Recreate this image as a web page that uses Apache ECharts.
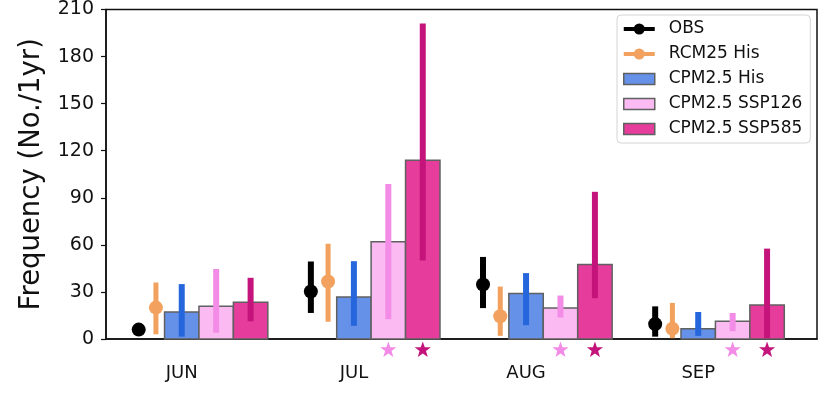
<!DOCTYPE html>
<html>
<head>
<meta charset="utf-8">
<script src="https://cdn.jsdelivr.net/npm/echarts@6/dist/echarts.min.js"></script>
<style>html,body{margin:0;padding:0;background:#fff}#c{width:832px;height:393px}</style>
</head>
<body>
<div id="c"></div>
<script>
const months = ['JUN', 'JUL', 'AUG', 'SEP'];
const yTicks = [0, 30, 60, 90, 120, 150, 180, 210];

const obsMean = [6, 30.3, 34.7, 9.5];
const obsLow  = [5, 16.6, 19.7, 1.5];
const obsHigh = [7, 49.4, 52.3, 20.8];

const rcmMean = [20, 36.6, 14.5, 6.5];
const rcmLow  = [3, 11, 2, 0.5];
const rcmHigh = [36, 60.7, 33.4, 23];

const hisMean = [17.2, 26.7, 29, 6.5];
const hisLow  = [1.5, 8.4, 8.8, 2];
const hisHigh = [35, 49.6, 42, 17.2];

const s126Mean = [20.8, 62, 19.7, 11.3];
const s126Low  = [4, 12.6, 13.7, 5];
const s126High = [44.6, 98.8, 27.7, 16.6];

const s585Mean = [23.5, 114, 47.5, 21.6];
const s585Low  = [11.3, 50, 26, 0.5];
const s585High = [39, 201, 93.8, 57.6];

const sig126 = [0, 1, 1, 1];
const sig585 = [0, 1, 1, 1];

const FONT = 'DejaVu Sans';
const rows = (m, lo, hi) => m.map((v, i) => [i, v, lo[i], hi[i]]);

function pointSeries(name, mean, lo, hi, off, color, lw) {
  return {
    name, type: 'custom', clip: false,
    itemStyle: { color },
    data: rows(mean, lo, hi),
    encode: { x: 0, y: 1 },
    renderItem: (params, api) => {
      const x = api.value(0) + off;
      const p = api.coord([x, api.value(1)]);
      const a = api.coord([x, api.value(3)]);
      const b = api.coord([x, api.value(2)]);
      return { type: 'group', children: [
        { type: 'rect', shape: { x: a[0] - lw / 2, y: a[1], width: lw, height: b[1] - a[1] }, style: { fill: color } },
        { type: 'circle', shape: { cx: p[0], cy: p[1], r: 7 }, style: { fill: color } }
      ]};
    }
  };
}

function barSeries(name, mean, lo, hi, off, fill, errColor) {
  const w = 0.2;
  return {
    name, type: 'custom', clip: false,
    itemStyle: { color: fill },
    data: rows(mean, lo, hi),
    encode: { x: 0, y: 1 },
    renderItem: (params, api) => {
      const x = api.value(0) + off;
      const tl = api.coord([x - w / 2, api.value(1)]);
      const br = api.coord([x + w / 2, 0]);
      const a = api.coord([x, api.value(3)]);
      const b = api.coord([x, api.value(2)]);
      return { type: 'group', children: [
        { type: 'rect', shape: { x: tl[0], y: tl[1], width: br[0] - tl[0], height: br[1] - tl[1] },
          style: { fill, stroke: '#606060', lineWidth: 1.5 } },
        { type: 'rect', shape: { x: a[0] - 3, y: a[1], width: 6, height: b[1] - a[1] }, style: { fill: errColor } }
      ]};
    }
  };
}

function starSeries(sig, off, color) {
  return {
    type: 'custom', clip: false, silent: true,
    data: sig.map((s, i) => [i, s]),
    encode: { x: 0, y: 1 },
    renderItem: (params, api) => {
      if (!api.value(1)) return null;
      const c = api.coord([api.value(0) + off, 0]);
      const cx = c[0], cy = c[1] + 11;
      const pts = [];
      for (let k = 0; k < 10; k++) {
        const r = k % 2 ? 3.4 : 8.5;
        const ang = -Math.PI / 2 + k * Math.PI / 5;
        pts.push([cx + r * Math.cos(ang), cy + r * Math.sin(ang)]);
      }
      return { type: 'polygon', shape: { points: pts }, style: { fill: color } };
    }
  };
}

const lineIcon = 'path://M0,3.5 L31,3.5 L31,7.5 L0,7.5 Z M21,5.5 A5.5,5.5 0 1 1 10,5.5 A5.5,5.5 0 1 1 21,5.5 Z';

const chart = echarts.init(document.getElementById('c'), null, { renderer: 'canvas' });
chart.setOption({
  animation: false,
  textStyle: { fontFamily: FONT },
  grid: { left: 106, right: 15, top: 6, bottom: 54, show: true, borderColor: '#111', borderWidth: 1.5, containLabel: false },
  xAxis: {
    type: 'value', min: -0.44, max: 3.69,
    axisLine: { show: true, onZero: false, lineStyle: { color: '#111', width: 1.5 } },
    axisTick: { show: false },
    splitLine: { show: false },
    axisLabel: { customValues: [0, 1, 2, 3], formatter: v => months[Math.round(v)], fontSize: 18, color: '#111', margin: 25, fontFamily: FONT }
  },
  yAxis: {
    type: 'value', min: 0, max: 210, interval: 30,
    name: 'Frequency (No./1yr)', nameLocation: 'middle', nameGap: 60,
    nameTextStyle: { fontSize: 27.5, color: '#111', fontFamily: FONT },
    axisLine: { show: true, onZero: false, lineStyle: { color: '#111', width: 1.5 } },
    axisTick: { show: true, length: 5, lineStyle: { color: '#111', width: 1.2 } },
    splitLine: { show: false },
    axisLabel: { fontSize: 19, color: '#111', margin: 12, fontFamily: FONT, formatter: v => String(yTicks.includes(v) ? v : v) }
  },
  legend: {
    orient: 'vertical', left: 617, top: 15,
    backgroundColor: '#fff', borderColor: '#d4d4d4', borderWidth: 1, borderRadius: 4,
    padding: [4, 8, 4, 6], itemGap: 5, itemWidth: 31, itemHeight: 11,
    textStyle: { fontSize: 17, color: '#111', lineHeight: 20, fontFamily: FONT, padding: [0, 0, 0, 9] },
    data: [
      { name: 'OBS', icon: lineIcon, itemStyle: { color: '#000', borderWidth: 0 } },
      { name: 'RCM25 His', icon: lineIcon, itemStyle: { color: '#f2a25e', borderWidth: 0 } },
      { name: 'CPM2.5 His', icon: 'rect', itemStyle: { color: '#6592e8', borderColor: '#606060', borderWidth: 1.5 } },
      { name: 'CPM2.5 SSP126', icon: 'rect', itemStyle: { color: '#fcbaf3', borderColor: '#606060', borderWidth: 1.5 } },
      { name: 'CPM2.5 SSP585', icon: 'rect', itemStyle: { color: '#e63d9c', borderColor: '#606060', borderWidth: 1.5 } }
    ]
  },
  series: [
    barSeries('CPM2.5 His', hisMean, hisLow, hisHigh, 0, '#6592e8', '#2666dc'),
    barSeries('CPM2.5 SSP126', s126Mean, s126Low, s126High, 0.2, '#fcbaf3', '#f28ce6'),
    barSeries('CPM2.5 SSP585', s585Mean, s585Low, s585High, 0.4, '#e63d9c', '#c4147b'),
    pointSeries('OBS', obsMean, obsLow, obsHigh, -0.25, '#000', 6),
    pointSeries('RCM25 His', rcmMean, rcmLow, rcmHigh, -0.15, '#f2a25e', 5),
    starSeries(sig126, 0.2, '#f28ce6'),
    starSeries(sig585, 0.4, '#c4147b')
  ]
});
</script>
</body>
</html>
